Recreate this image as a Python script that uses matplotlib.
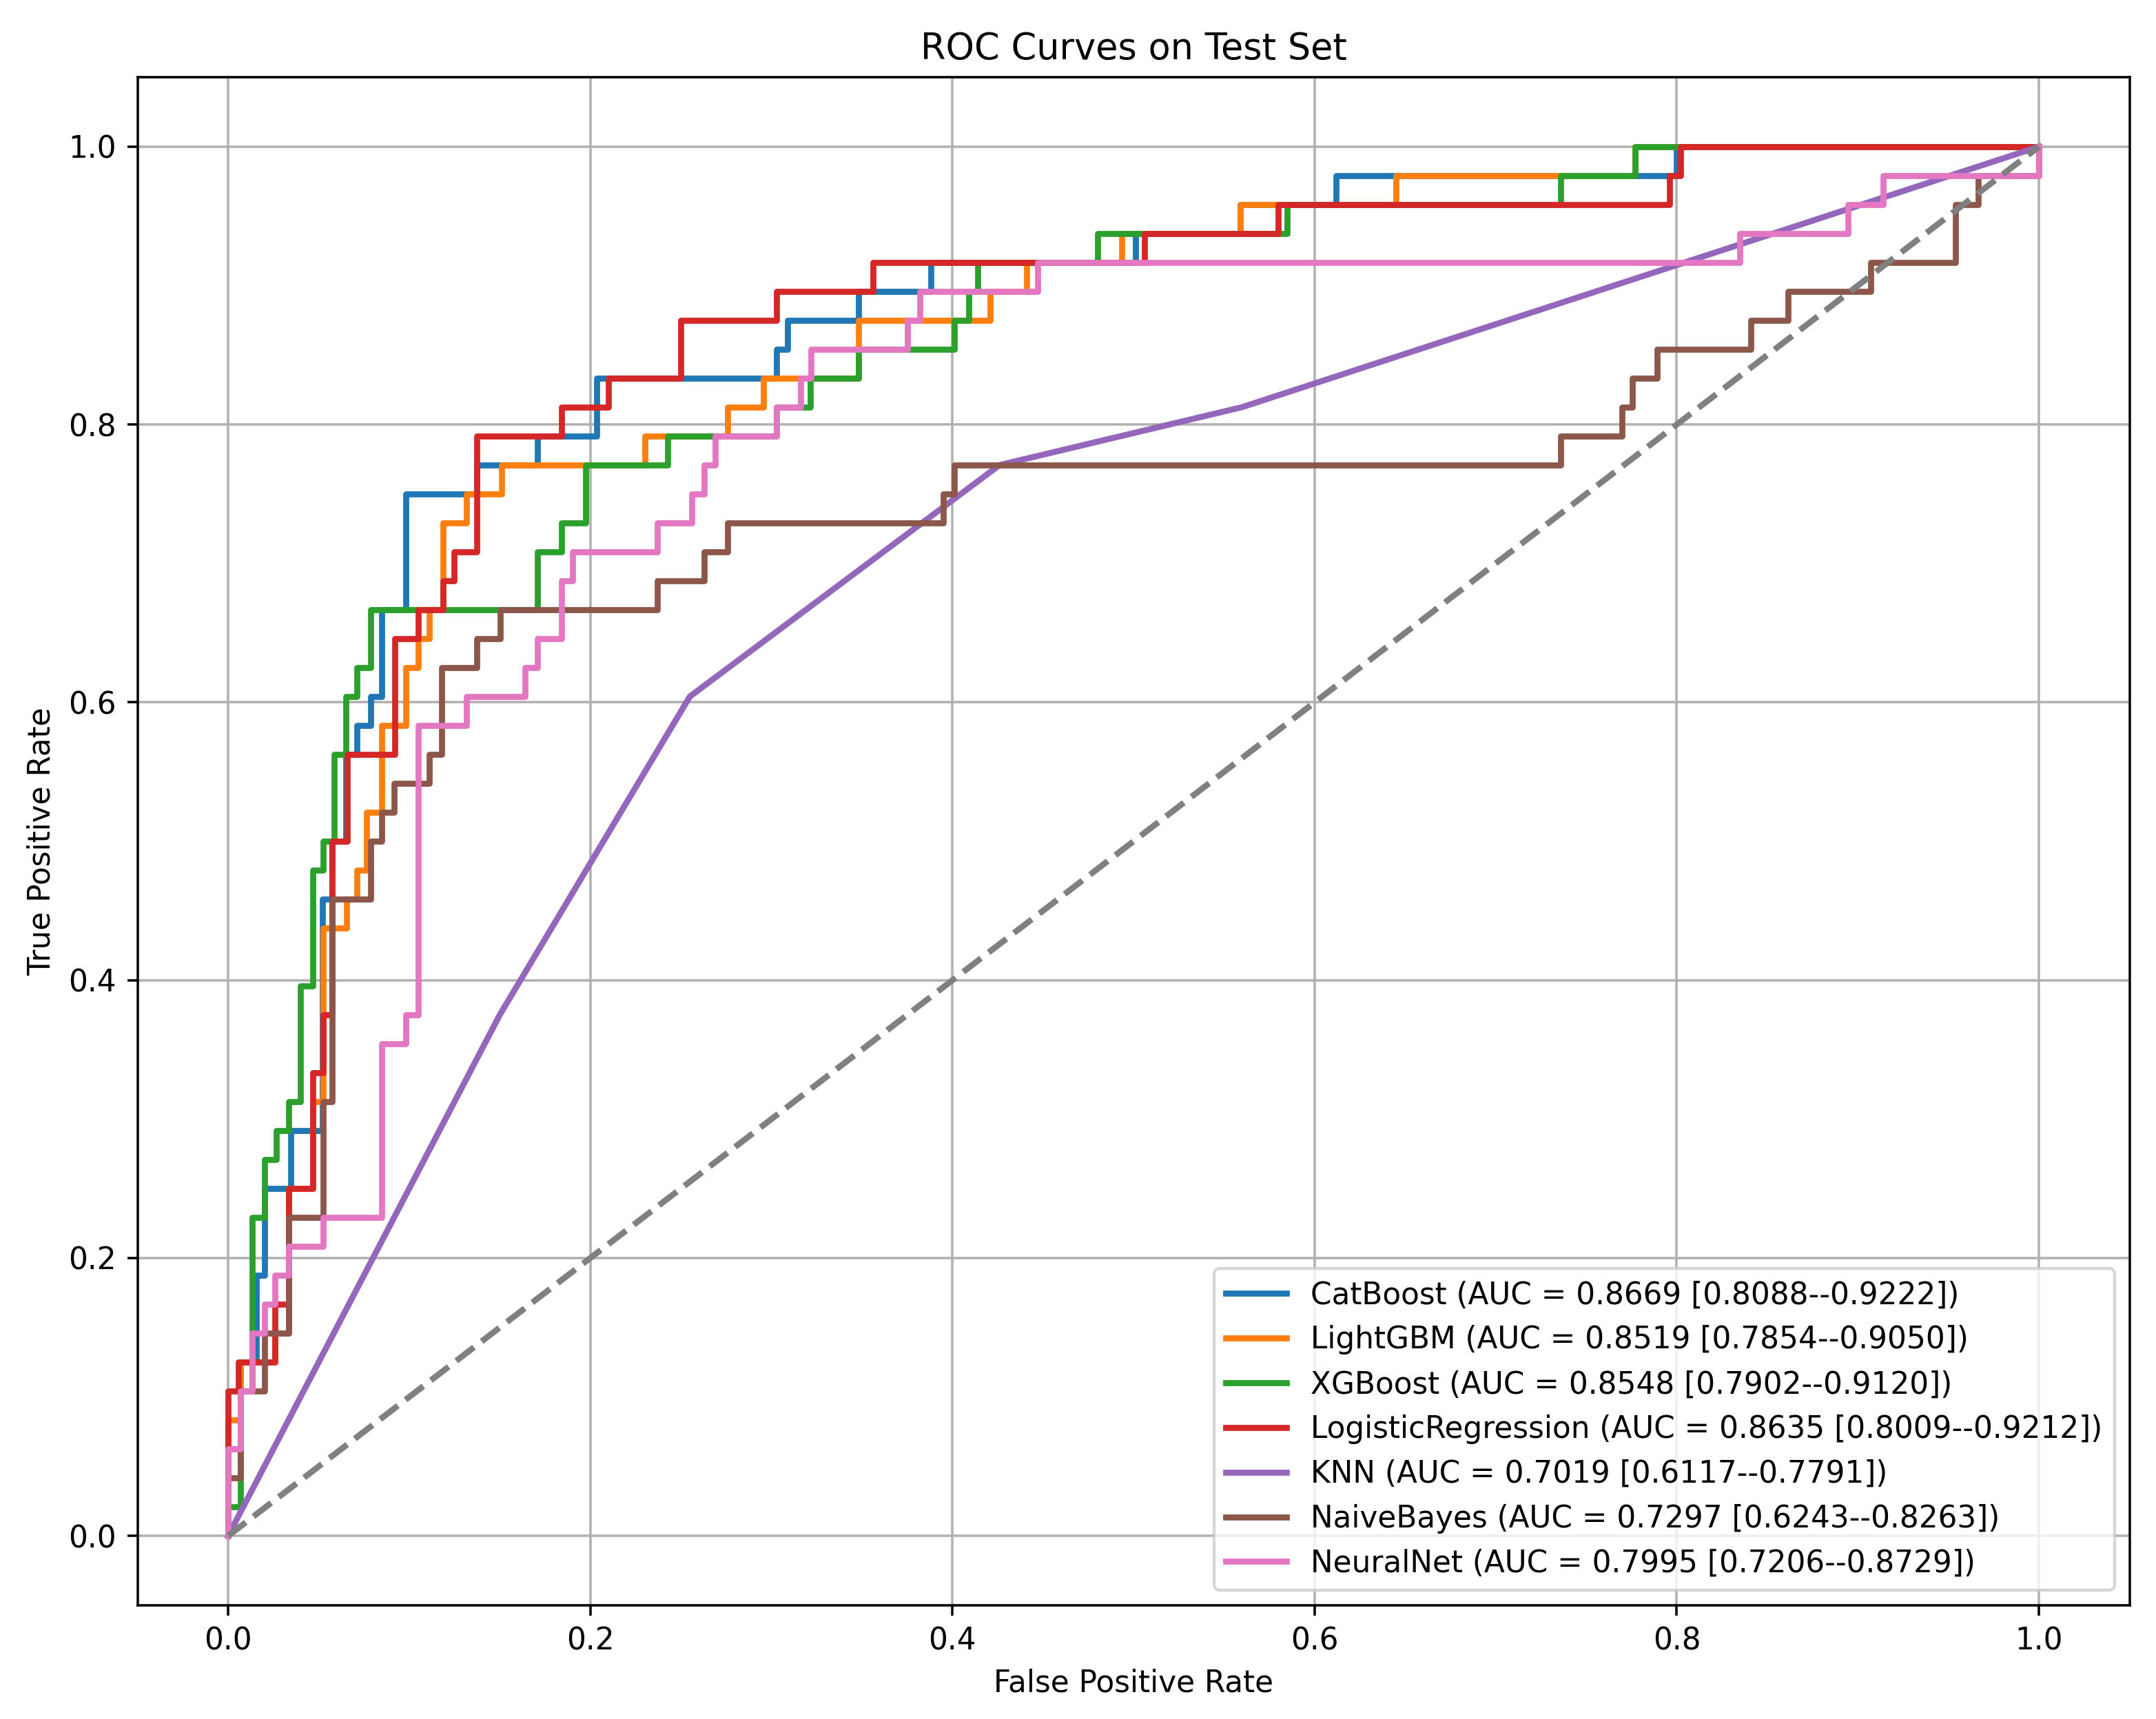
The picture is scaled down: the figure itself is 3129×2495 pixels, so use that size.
import numpy as np
import matplotlib
matplotlib.use('Agg')
import matplotlib.pyplot as plt

plt.rcParams['font.family'] = 'DejaVu Sans'
plt.rcParams['font.size'] = 10

# model names, AUC and bootstrap CI as printed in the legend
models = ['CatBoost', 'LightGBM', 'XGBoost', 'LogisticRegression', 'KNN', 'NaiveBayes', 'NeuralNet']
auc = [0.8669, 0.8519, 0.8548, 0.8635, 0.7019, 0.7297, 0.7995]
ci_low = [0.8088, 0.7854, 0.7902, 0.8009, 0.6117, 0.6243, 0.7206]
ci_high = [0.9222, 0.9050, 0.9120, 0.9212, 0.7791, 0.8263, 0.8729]

# ROC vertices
fpr_cat = [0, 0, 0.0069, 0.0069, 0.0154, 0.0154, 0.0202, 0.0202, 0.0345, 0.0345, 0.0523, 0.0523,
           0.0575, 0.0575, 0.065, 0.065, 0.0711, 0.0711, 0.0788, 0.0788, 0.0848, 0.0848, 0.098, 0.098,
           0.1375, 0.1375, 0.171, 0.171, 0.2035, 0.2035, 0.303, 0.303, 0.309, 0.309, 0.348, 0.348,
           0.388, 0.388, 0.501, 0.501, 0.559, 0.559, 0.612, 0.612, 0.8, 0.8, 1.0]
tpr_cat = [0, 0.0625, 0.0625, 0.125, 0.125, 0.1875, 0.1875, 0.25, 0.25, 0.2917, 0.2917, 0.4583,
           0.4583, 0.5, 0.5, 0.5625, 0.5625, 0.5833, 0.5833, 0.6042, 0.6042, 0.6667, 0.6667, 0.75,
           0.75, 0.7708, 0.7708, 0.7917, 0.7917, 0.8333, 0.8333, 0.8542, 0.8542, 0.875, 0.875, 0.8958,
           0.8958, 0.9167, 0.9167, 0.9375, 0.9375, 0.9583, 0.9583, 0.9792, 0.9792, 1.0, 1.0]

fpr_lgb = [0, 0, 0.0069, 0.0069, 0.026, 0.026, 0.0335, 0.0335, 0.0468, 0.0468, 0.0526, 0.0526,
           0.0653, 0.0653, 0.0711, 0.0711, 0.0763, 0.0763, 0.0848, 0.0848, 0.0983, 0.0983, 0.1051, 0.1051,
           0.111, 0.111, 0.1188, 0.1188, 0.1316, 0.1316, 0.1511, 0.1511, 0.2302, 0.2302, 0.276, 0.276,
           0.2955, 0.2955, 0.348, 0.348, 0.421, 0.421, 0.441, 0.441, 0.4935, 0.4935, 0.559, 0.559,
           0.645, 0.645, 0.777, 0.777, 1.0]
tpr_lgb = [0, 0.0833, 0.0833, 0.125, 0.125, 0.1458, 0.1458, 0.25, 0.25, 0.3125, 0.3125, 0.4375,
           0.4375, 0.4583, 0.4583, 0.4792, 0.4792, 0.5208, 0.5208, 0.5833, 0.5833, 0.625, 0.625, 0.6458,
           0.6458, 0.6667, 0.6667, 0.7292, 0.7292, 0.75, 0.75, 0.7708, 0.7708, 0.7917, 0.7917, 0.8125,
           0.8125, 0.8333, 0.8333, 0.875, 0.875, 0.8958, 0.8958, 0.9167, 0.9167, 0.9375, 0.9375, 0.9583,
           0.9583, 0.9792, 0.9792, 1.0, 1.0]

fpr_xgb = [0, 0, 0.0069, 0.0069, 0.0132, 0.0132, 0.0202, 0.0202, 0.0266, 0.0266, 0.0335, 0.0335,
           0.040, 0.040, 0.0468, 0.0468, 0.0524, 0.0524, 0.0584, 0.0584, 0.0652, 0.0652, 0.0711, 0.0711,
           0.0788, 0.0788, 0.171, 0.171, 0.1843, 0.1843, 0.1974, 0.1974, 0.2429, 0.2429, 0.303, 0.303,
           0.3214, 0.3214, 0.348, 0.348, 0.401, 0.401, 0.409, 0.409, 0.414, 0.414, 0.480, 0.480,
           0.585, 0.585, 0.736, 0.736, 0.777, 0.777, 1.0]
tpr_xgb = [0, 0.0208, 0.0208, 0.1042, 0.1042, 0.2292, 0.2292, 0.2708, 0.2708, 0.2917, 0.2917, 0.3125,
           0.3125, 0.3958, 0.3958, 0.4792, 0.4792, 0.5, 0.5, 0.5625, 0.5625, 0.6042, 0.6042, 0.625,
           0.625, 0.6667, 0.6667, 0.7083, 0.7083, 0.7292, 0.7292, 0.7708, 0.7708, 0.7917, 0.7917, 0.8125,
           0.8125, 0.8333, 0.8333, 0.8542, 0.8542, 0.875, 0.875, 0.8958, 0.8958, 0.9167, 0.9167, 0.9375,
           0.9375, 0.9583, 0.9583, 0.9792, 0.9792, 1.0, 1.0]

fpr_lr = [0, 0, 0.0057, 0.0057, 0.0259, 0.0259, 0.0335, 0.0335, 0.0468, 0.0468, 0.0526, 0.0526,
          0.0575, 0.0575, 0.066, 0.066, 0.0919, 0.0919, 0.1051, 0.1051, 0.1188, 0.1188, 0.1247, 0.1247,
          0.1375, 0.1375, 0.1843, 0.1843, 0.21, 0.21, 0.25, 0.25, 0.303, 0.303, 0.356, 0.356,
          0.506, 0.506, 0.580, 0.580, 0.796, 0.796, 0.802, 0.802, 1.0]
tpr_lr = [0, 0.1042, 0.1042, 0.125, 0.125, 0.1667, 0.1667, 0.25, 0.25, 0.3333, 0.3333, 0.375,
          0.375, 0.5, 0.5, 0.5625, 0.5625, 0.6458, 0.6458, 0.6667, 0.6667, 0.6875, 0.6875, 0.7083,
          0.7083, 0.7917, 0.7917, 0.8125, 0.8125, 0.8333, 0.8333, 0.875, 0.875, 0.8958, 0.8958, 0.9167,
          0.9167, 0.9375, 0.9375, 0.9583, 0.9583, 0.9792, 0.9792, 1.0, 1.0]

fpr_knn = [0, 0.05, 0.15, 0.255, 0.426, 0.56, 1.0]
tpr_knn = [0, 0.125, 0.375, 0.6042, 0.7708, 0.8125, 1.0]

fpr_nb = [0, 0, 0.0069, 0.0069, 0.0202, 0.0202, 0.0335, 0.0335, 0.0526, 0.0526, 0.0575, 0.0575,
          0.0788, 0.0788, 0.0848, 0.0848, 0.0916, 0.0916, 0.111, 0.111, 0.118, 0.118, 0.1375, 0.1375,
          0.1503, 0.1503, 0.237, 0.237, 0.263, 0.263, 0.276, 0.276, 0.395, 0.395, 0.401, 0.401,
          0.736, 0.736, 0.7697, 0.7697, 0.7756, 0.7756, 0.789, 0.789, 0.841, 0.841, 0.8614, 0.8614,
          0.907, 0.907, 0.954, 0.954, 0.9666, 0.9666, 1.0, 1.0]
tpr_nb = [0, 0.0417, 0.0417, 0.1042, 0.1042, 0.1458, 0.1458, 0.2292, 0.2292, 0.3125, 0.3125, 0.4583,
          0.4583, 0.5, 0.5, 0.5208, 0.5208, 0.5417, 0.5417, 0.5625, 0.5625, 0.625, 0.625, 0.6458,
          0.6458, 0.6667, 0.6667, 0.6875, 0.6875, 0.7083, 0.7083, 0.7292, 0.7292, 0.75, 0.75, 0.7708,
          0.7708, 0.7917, 0.7917, 0.8125, 0.8125, 0.8333, 0.8333, 0.8542, 0.8542, 0.875, 0.875, 0.8958,
          0.8958, 0.9167, 0.9167, 0.9583, 0.9583, 0.9792, 0.9792, 1.0]

fpr_nn = [0, 0, 0.0069, 0.0069, 0.0132, 0.0132, 0.0202, 0.0202, 0.0259, 0.0259, 0.0335, 0.0335,
          0.0526, 0.0526, 0.085, 0.085, 0.0983, 0.0983, 0.1051, 0.1051, 0.1316, 0.1316, 0.164, 0.164,
          0.1708, 0.1708, 0.1843, 0.1843, 0.1902, 0.1902, 0.237, 0.237, 0.256, 0.256, 0.263, 0.263,
          0.269, 0.269, 0.303, 0.303, 0.3163, 0.3163, 0.322, 0.322, 0.375, 0.375, 0.382, 0.382,
          0.447, 0.447, 0.835, 0.835, 0.8945, 0.8945, 0.914, 0.914, 1.0, 1.0]
tpr_nn = [0, 0.0625, 0.0625, 0.1042, 0.1042, 0.1458, 0.1458, 0.1667, 0.1667, 0.1875, 0.1875, 0.2083,
          0.2083, 0.2292, 0.2292, 0.3542, 0.3542, 0.375, 0.375, 0.5833, 0.5833, 0.6042, 0.6042, 0.625,
          0.625, 0.6458, 0.6458, 0.6875, 0.6875, 0.7083, 0.7083, 0.7292, 0.7292, 0.75, 0.75, 0.7708,
          0.7708, 0.7917, 0.7917, 0.8125, 0.8125, 0.8333, 0.8333, 0.8542, 0.8542, 0.875, 0.875, 0.8958,
          0.8958, 0.9167, 0.9167, 0.9375, 0.9375, 0.9583, 0.9583, 0.9792, 0.9792, 1.0]

curves = [(fpr_cat, tpr_cat), (fpr_lgb, tpr_lgb), (fpr_xgb, tpr_xgb), (fpr_lr, tpr_lr),
          (fpr_knn, tpr_knn), (fpr_nb, tpr_nb), (fpr_nn, tpr_nn)]

dpi = 315
fig = plt.figure(figsize=(3129/dpi, 2495/dpi), dpi=dpi)
ax = fig.add_axes([0.0638, 0.0661, 0.9239, 0.889])

for name, (fpr, tpr), a, lo, hi in zip(models, curves, auc, ci_low, ci_high):
    ax.plot(fpr, tpr, linewidth=2, label=f'{name} (AUC = {a:.4f} [{lo:.4f}--{hi:.4f}])')

ax.plot([0, 1], [0, 1], linestyle='--', color='gray', linewidth=2)

ax.set_xlabel('False Positive Rate')
ax.set_ylabel('True Positive Rate')
ax.set_title('ROC Curves on Test Set')
ax.legend(loc='lower right')
ax.grid(True)

fig.savefig('out.png', dpi=dpi)
